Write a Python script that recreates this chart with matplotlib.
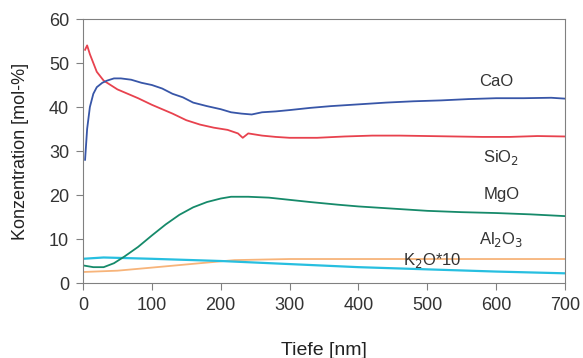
import matplotlib.pyplot as plt
import numpy as np

plt.rcParams['font.family'] = ['Liberation Sans', 'DejaVu Sans']

# values
cao_x = [3, 6, 10, 15, 20, 28, 35, 45, 55, 70, 85, 100, 115, 130, 145, 160, 180, 200, 215, 230, 245, 260, 280, 300, 330, 360, 400, 440, 480, 520, 560, 600, 640, 680, 700]
cao_y = [28, 35, 40, 43, 44.5, 45.5, 46, 46.5, 46.5, 46.2, 45.5, 45, 44.2, 43, 42.2, 41, 40.2, 39.5, 38.8, 38.5, 38.3, 38.8, 39, 39.3, 39.8, 40.2, 40.6, 41, 41.3, 41.5, 41.8, 42, 42, 42.1, 41.9]

sio2_x = [3, 6, 10, 15, 20, 30, 40, 50, 65, 80, 100, 115, 130, 150, 170, 190, 210, 225, 232, 240, 260, 280, 300, 340, 380, 420, 460, 500, 540, 580, 620, 660, 700]
sio2_y = [53, 54, 52, 50, 48, 46, 45, 44, 43, 42, 40.5, 39.5, 38.5, 37, 36, 35.3, 34.8, 34, 33, 34, 33.5, 33.2, 33, 33, 33.3, 33.5, 33.5, 33.4, 33.3, 33.2, 33.2, 33.4, 33.3]

mgo_x = [0, 15, 30, 45, 60, 80, 100, 120, 140, 160, 180, 200, 215, 240, 270, 300, 330, 370, 400, 450, 500, 550, 600, 650, 700]
mgo_y = [4, 3.6, 3.6, 4.5, 6, 8.2, 10.8, 13.3, 15.5, 17.2, 18.4, 19.2, 19.6, 19.6, 19.4, 18.9, 18.4, 17.8, 17.4, 16.9, 16.4, 16.1, 15.9, 15.6, 15.2]

al2o3_x = [0, 30, 100, 200, 300, 400, 500, 600, 700]
al2o3_y = [5.5, 5.8, 5.5, 5.0, 4.3, 3.6, 3.1, 2.6, 2.2]

k2o_x = [0, 50, 100, 170, 220, 300, 400, 500, 600, 700]
k2o_y = [2.5, 2.8, 3.5, 4.5, 5.2, 5.45, 5.45, 5.45, 5.45, 5.45]

fig = plt.figure(figsize=(5.83, 3.58), dpi=100)
ax = fig.add_axes([83/583, 1-283/358, 482/583, 264/358])

ax.plot(k2o_x, k2o_y, color='#f7b47a', lw=1.3)
ax.plot(al2o3_x, al2o3_y, color='#27bfe0', lw=1.6)
ax.plot(mgo_x, mgo_y, color='#168a6a', lw=1.3)
ax.plot(sio2_x, sio2_y, color='#e8424e', lw=1.3)
ax.plot(cao_x, cao_y, color='#3856a8', lw=1.3)

ax.set_xlim(0, 700)
ax.set_ylim(0, 60)
ax.set_xticks(range(0, 701, 100))
ax.set_yticks(range(0, 61, 10))
for s in ax.spines.values():
    s.set_color('#808080')
ax.tick_params(direction='out', length=5, color='#808080', labelsize=13,
               labelcolor='#333333', pad=5)

lab = dict(fontsize=12, ha='center', va='center', color='#333333')
ax.text(600, 45.9, 'CaO', **lab)
ax.text(607, 28.6, 'SiO$_2$', **lab)
ax.text(608, 20.0, 'MgO', **lab)
ax.text(608, 9.8, 'Al$_2$O$_3$', **lab)
ax.text(507, 5.0, 'K$_2$O*10', **lab)

ax.set_xlabel('Tiefe [nm]', fontsize=14, color='#222222', labelpad=20)
ax.set_ylabel('Konzentration [mol-%]', fontsize=13, color='#222222', labelpad=14)

fig.savefig('out.png', dpi=100)
